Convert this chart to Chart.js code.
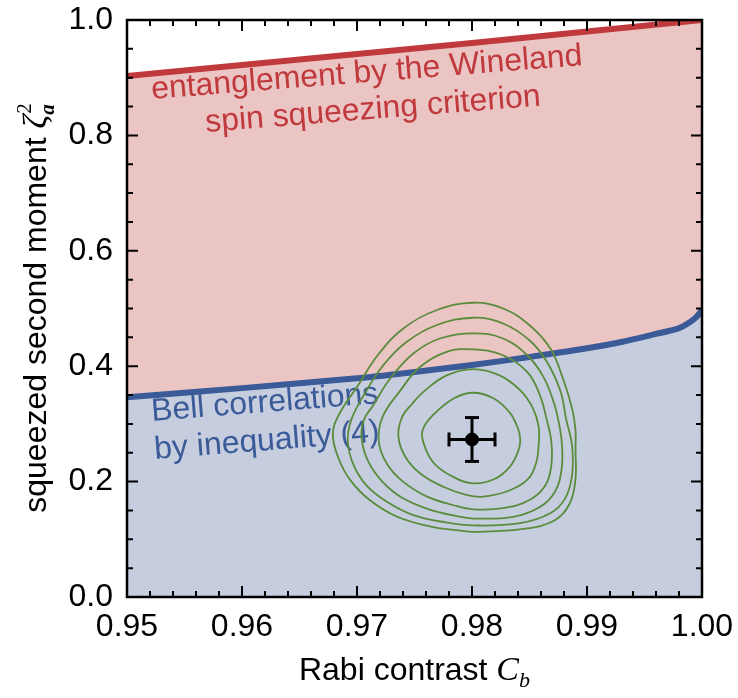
<!DOCTYPE html>
<html>
<head>
<meta charset="utf-8">
<script src="https://cdn.jsdelivr.net/npm/chart.js@4.4.0/dist/chart.umd.min.js"></script>
<style>
html, body { margin: 0; padding: 0; background: #fff; }
#wrap { width: 738px; height: 698px; }
</style>
</head>
<body>
<div id="wrap"><canvas id="chart" width="738" height="698"></canvas></div>
<script>
// 坐标轴刻度
const xTicks = [0.95, 0.96, 0.97, 0.98, 0.99, 1.00];
const yTicks = [0.0, 0.2, 0.4, 0.6, 0.8, 1.0];

// Wineland 判据边界 (红线)
const winelandC = [0.95, 0.96, 0.97, 0.98, 0.99, 1.00];
const winelandZeta = [0.903, 0.922, 0.941, 0.960, 0.980, 1.000];

// Bell 不等式边界 (蓝线)
const bellC = [0.95, 0.96, 0.97, 0.975, 0.98, 0.985, 0.99, 0.993, 0.996, 0.998, 0.999, 0.9995, 1.0];
const bellZeta = [0.346, 0.362, 0.379, 0.390, 0.402, 0.416, 0.431, 0.442, 0.456, 0.466, 0.477, 0.485, 0.497];

// 测量点和误差
const measC = 0.980;
const measZeta = 0.273;
const measCErr = 0.002;
const measZetaErr = 0.038;

// 等高线 (由内到外)
const contour1 = [[0.9801,0.354],[0.9819,0.344],[0.9833,0.319],[0.9840,0.292],[0.9842,0.272],[0.9840,0.252],[0.9833,0.226],[0.9820,0.205],[0.9801,0.197],[0.9781,0.211],[0.9766,0.234],[0.9758,0.266],[0.9757,0.289],[0.9766,0.315],[0.9784,0.344]];
const contour2 = [[0.9801,0.395],[0.9824,0.384],[0.9842,0.358],[0.9853,0.327],[0.9858,0.295],[0.9858,0.266],[0.9856,0.234],[0.9849,0.205],[0.9833,0.185],[0.9810,0.174],[0.9795,0.177],[0.9775,0.191],[0.9755,0.214],[0.9742,0.243],[0.9736,0.278],[0.9739,0.311],[0.9748,0.335],[0.9758,0.356],[0.9778,0.384]];
const contour3 = [[0.9801,0.429],[0.9827,0.419],[0.9848,0.390],[0.9859,0.350],[0.9865,0.307],[0.9869,0.269],[0.9869,0.229],[0.9864,0.194],[0.9850,0.168],[0.9827,0.154],[0.9801,0.152],[0.9784,0.159],[0.9761,0.174],[0.9740,0.200],[0.9726,0.231],[0.9719,0.269],[0.9722,0.311],[0.9737,0.356],[0.9755,0.399],[0.9778,0.425]];
const contour4 = [[0.9801,0.457],[0.9827,0.448],[0.9848,0.419],[0.9862,0.382],[0.9871,0.338],[0.9875,0.307],[0.9878,0.269],[0.9878,0.223],[0.9872,0.182],[0.9859,0.156],[0.9836,0.139],[0.9801,0.136],[0.9790,0.139],[0.9764,0.151],[0.9740,0.171],[0.9722,0.200],[0.9710,0.234],[0.9704,0.275],[0.9706,0.307],[0.9714,0.332],[0.9729,0.379],[0.9749,0.422],[0.9772,0.448]];
const contour5 = [[0.9801,0.484],[0.9827,0.474],[0.9850,0.445],[0.9865,0.408],[0.9877,0.356],[0.9882,0.307],[0.9887,0.263],[0.9887,0.211],[0.9881,0.171],[0.9868,0.145],[0.9842,0.128],[0.9801,0.124],[0.9778,0.129],[0.9749,0.142],[0.9726,0.165],[0.9708,0.194],[0.9697,0.229],[0.9692,0.269],[0.9695,0.307],[0.9706,0.350],[0.9723,0.402],[0.9743,0.442],[0.9769,0.471]];
const contour6 = [[0.9801,0.510],[0.9827,0.500],[0.9850,0.471],[0.9868,0.431],[0.9879,0.379],[0.9887,0.327],[0.9890,0.289],[0.9890,0.257],[0.9890,0.205],[0.9885,0.162],[0.9872,0.133],[0.9845,0.118],[0.9801,0.113],[0.9790,0.115],[0.9764,0.122],[0.9735,0.139],[0.9711,0.168],[0.9694,0.203],[0.9684,0.240],[0.9679,0.281],[0.9684,0.315],[0.9701,0.367],[0.9718,0.419],[0.9740,0.465],[0.9769,0.497]];

const RED = '#c0393c';
const BLUE = '#3b5a98';
const GREEN = '#5a8c3c';
const PINK_FILL = '#ebc4c4';
const BLUE_FILL = '#c6cddf';
const SANS = '"Liberation Sans", Arial, Helvetica, sans-serif';
const SERIF = '"Liberation Serif", "Times New Roman", serif';

function toPoints(xs, ys) {
    return xs.map((x, i) => ({ x: x, y: ys[i] }));
}

// 闭合曲线: 前后各多带一个点, 首尾两段隐藏, 接缝处也平滑
function loopData(pairs) {
    const n = pairs.length;
    const seq = [pairs[n - 1], ...pairs, pairs[0], pairs[1]];
    return seq.map(p => ({ x: p[0], y: p[1] }));
}

const contourSets = [contour1, contour2, contour3, contour4, contour5, contour6].map(c => ({
    data: loopData(c),
    showLine: true,
    borderColor: GREEN,
    borderWidth: 1.8,
    pointRadius: 0,
    tension: 0.4,
    fill: false,
    segment: {
        borderColor: s => (s.p0DataIndex === 0 || s.p0DataIndex === c.length + 1) ? 'rgba(0,0,0,0)' : undefined
    }
}));

// 去掉刻度标签带来的额外边距
function noPad(s) {
    s.paddingTop = 0;
    s.paddingBottom = 0;
    s.paddingLeft = 0;
    s.paddingRight = 0;
}

// 刻度线和边框
const frame = {
    id: 'frame',
    afterDatasetsDraw(chart) {
        const { ctx, chartArea: a, scales } = chart;
        const xs = scales.x, ys = scales.y;
        ctx.save();
        ctx.strokeStyle = '#000';
        ctx.lineWidth = 2;
        ctx.beginPath();
        const xStep = (xTicks[1] - xTicks[0]) / 5;
        for (let i = 0; i <= (xTicks.length - 1) * 5; i++) {
            const px = xs.getPixelForValue(xTicks[0] + i * xStep);
            const len = i % 5 === 0 ? 11 : 6;
            ctx.moveTo(px, a.bottom); ctx.lineTo(px, a.bottom - len);
            ctx.moveTo(px, a.top); ctx.lineTo(px, a.top + len);
        }
        const yStep = (yTicks[1] - yTicks[0]) / 4;
        for (let i = 0; i <= (yTicks.length - 1) * 4; i++) {
            const py = ys.getPixelForValue(yTicks[0] + i * yStep);
            const len = i % 4 === 0 ? 11 : 6;
            ctx.moveTo(a.left, py); ctx.lineTo(a.left + len, py);
            ctx.moveTo(a.right, py); ctx.lineTo(a.right - len, py);
        }
        ctx.stroke();
        ctx.lineWidth = 2.5;
        ctx.strokeRect(a.left, a.top, a.right - a.left, a.bottom - a.top);
        ctx.restore();
    }
};

function rotText(ctx, text, x, y, deg) {
    ctx.save();
    ctx.translate(x, y);
    ctx.rotate(deg * Math.PI / 180);
    ctx.fillText(text, 0, 0);
    ctx.restore();
}

// 区域说明文字
const regionLabels = {
    id: 'regionLabels',
    beforeDatasetsDraw(chart) {
        const { ctx } = chart;
        ctx.save();
        ctx.font = '32px ' + SANS;
        ctx.textAlign = 'left';
        ctx.textBaseline = 'alphabetic';
        ctx.fillStyle = RED;
        rotText(ctx, 'entanglement by the Wineland', 152, 99, -4.5);
        rotText(ctx, 'spin squeezing criterion', 206, 132, -4.5);
        ctx.fillStyle = BLUE;
        rotText(ctx, 'Bell correlations', 152, 421, -4.5);
        rotText(ctx, 'by inequality (4)', 155, 459, -4.5);
        ctx.restore();
    }
};

// 坐标轴标题 (含数学符号)
const axisTitles = {
    id: 'axisTitles',
    afterDraw(chart) {
        const { ctx, chartArea: a } = chart;
        ctx.save();
        ctx.fillStyle = '#000';
        ctx.textBaseline = 'alphabetic';
        ctx.textAlign = 'left';

        // x 轴
        const xMain = 'Rabi contrast ';
        ctx.font = '32px ' + SANS;
        const w1 = ctx.measureText(xMain).width;
        ctx.font = 'italic 34px ' + SERIF;
        const w2 = ctx.measureText('C').width;
        ctx.font = 'italic 22px ' + SERIF;
        const w3 = ctx.measureText('b').width;
        const x0 = (a.left + a.right) / 2 - (w1 + w2 + w3) / 2;
        const yb = 680;
        ctx.font = '32px ' + SANS;
        ctx.fillText(xMain, x0, yb);
        ctx.font = 'italic 34px ' + SERIF;
        ctx.fillText('C', x0 + w1, yb);
        ctx.font = 'italic 22px ' + SERIF;
        ctx.fillText('b', x0 + w1 + w2, yb + 7);

        // y 轴
        ctx.translate(46, (a.top + a.bottom) / 2);
        ctx.rotate(-Math.PI / 2);
        const yMain = 'squeezed second moment ';
        ctx.font = '32px ' + SANS;
        const v1 = ctx.measureText(yMain).width;
        ctx.font = 'italic 34px ' + SERIF;
        const v2 = ctx.measureText('ζ').width;
        ctx.font = '21px ' + SERIF;
        const v3 = ctx.measureText('2').width;
        const s0 = -(v1 + v2 + v3) / 2;
        ctx.font = '32px ' + SANS;
        ctx.fillText(yMain, s0, 0);
        ctx.font = 'italic 34px ' + SERIF;
        ctx.fillText('ζ', s0 + v1, 0);
        ctx.font = '21px ' + SERIF;
        ctx.fillText('2', s0 + v1 + v2 + 1, -15);
        ctx.font = 'italic bold 21px ' + SERIF;
        ctx.fillText('a', s0 + v1 + v2, 8);
        ctx.restore();
    }
};

const ctx = document.getElementById('chart');
new Chart(ctx, {
    type: 'scatter',
    data: {
        datasets: [
            {
                data: [{ x: measC, y: measZeta }],
                pointRadius: 6.5,
                pointBackgroundColor: '#000',
                pointBorderColor: '#000'
            },
            {
                data: [{ x: measC - measCErr, y: measZeta }, { x: measC + measCErr, y: measZeta }],
                showLine: true,
                borderColor: '#000',
                borderWidth: 3,
                pointStyle: 'line',
                pointRotation: 90,
                pointRadius: 7,
                pointBorderWidth: 3,
                pointBorderColor: '#000'
            },
            {
                data: [{ x: measC, y: measZeta - measZetaErr }, { x: measC, y: measZeta + measZetaErr }],
                showLine: true,
                borderColor: '#000',
                borderWidth: 3,
                pointStyle: 'line',
                pointRotation: 0,
                pointRadius: 7,
                pointBorderWidth: 3,
                pointBorderColor: '#000'
            },
            ...contourSets,
            {
                data: toPoints(winelandC, winelandZeta),
                showLine: true,
                borderColor: RED,
                borderWidth: 6,
                pointRadius: 0,
                tension: 0.3,
                backgroundColor: PINK_FILL,
                fill: 10
            },
            {
                data: toPoints(bellC, bellZeta),
                showLine: true,
                borderColor: BLUE,
                borderWidth: 6,
                pointRadius: 0,
                tension: 0.3,
                backgroundColor: BLUE_FILL,
                fill: 'origin'
            }
        ]
    },
    options: {
        responsive: false,
        animation: false,
        devicePixelRatio: 1,
        layout: { padding: { top: 20, right: 36, left: 0, bottom: 0 } },
        plugins: {
            legend: { display: false },
            tooltip: { enabled: false },
            filler: { drawTime: 'beforeDatasetsDraw' }
        },
        scales: {
            x: {
                type: 'linear',
                min: 0.95,
                max: 1.0,
                afterBuildTicks: s => { s.ticks = xTicks.map(v => ({ value: v })); },
                afterFit: s => { s.height = 101; noPad(s); },
                grid: { display: false, drawTicks: false },
                border: { display: false },
                ticks: {
                    padding: 11,
                    color: '#000',
                    font: { family: SANS, size: 32 },
                    callback: v => v.toFixed(2)
                }
            },
            y: {
                type: 'linear',
                min: 0,
                max: 1,
                afterBuildTicks: s => { s.ticks = yTicks.map(v => ({ value: v })); },
                afterFit: s => { s.width = 127; noPad(s); },
                grid: { display: false, drawTicks: false },
                border: { display: false },
                ticks: {
                    padding: 14,
                    color: '#000',
                    font: { family: SANS, size: 32 },
                    callback: v => v.toFixed(1)
                }
            }
        }
    },
    plugins: [frame, regionLabels, axisTitles]
});
</script>
</body>
</html>
